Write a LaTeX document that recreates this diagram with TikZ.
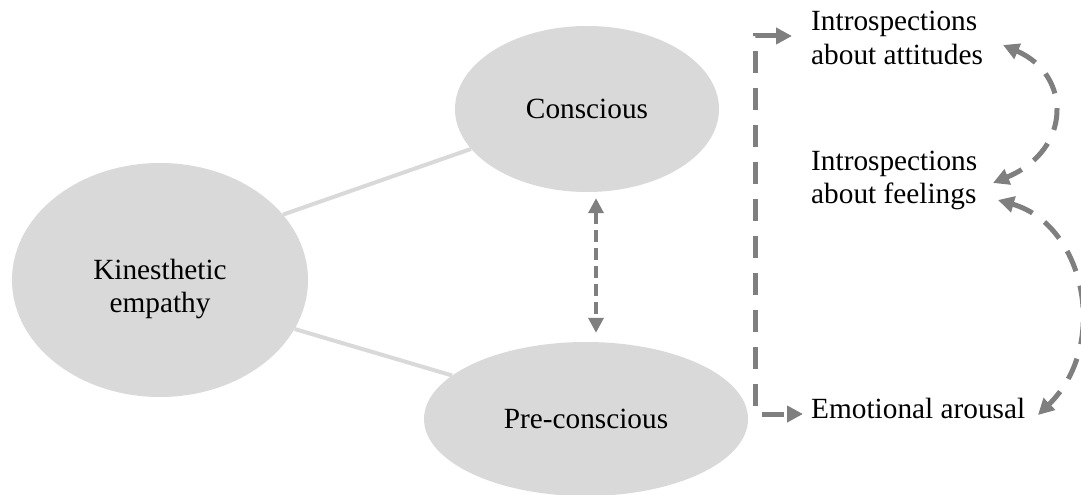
\documentclass[tikz,border=0pt]{standalone}
\usepackage{fontspec}
\setmainfont{Liberation Serif}
\usetikzlibrary{shapes.geometric,arrows.meta,calc}
\definecolor{ellfill}{HTML}{D9D9D9}
\definecolor{arrgray}{HTML}{7F7F7F}
\begin{document}
\begin{tikzpicture}[x=1pt,y=-1pt,
  every node/.style={font=\fontsize{29.3}{33}\selectfont},
  bubble/.style={ellipse, fill=ellfill, draw=none, inner sep=0pt},
  link/.style={draw=ellfill, line width=4pt},
  dashedarrow/.style={draw=arrgray, line width=3.5pt, dash pattern=on 12pt off 6pt,
    arrows={Triangle[length=15pt,width=15pt]-Triangle[length=15pt,width=15pt]}},
  bigarrow/.style={draw=arrgray, line width=5pt, dash pattern=on 22pt off 15pt,
    arrows={Triangle[length=16pt,width=16pt]-Triangle[length=16pt,width=16pt]}},
  sidetext/.style={anchor=base west, inner sep=0pt}]
\useasboundingbox (0,0) rectangle (1081,495);
\node[bubble, minimum width=296pt, minimum height=234pt,
  label={[yshift=-9pt]center:{\begin{tabular}{@{}c@{}}Kinesthetic\\empathy\end{tabular}}}] (k) at (160,280) {};
\node[bubble, minimum width=264pt, minimum height=166pt] (c) at (587,109) {Conscious};
\node[bubble, minimum width=324pt, minimum height=154pt] (p) at (586,419) {Pre-conscious};
\draw[link] (k.28) -- (c.199);
\draw[link] (k.-20) -- (p.162);
\draw[dashedarrow] ($(c.south)+(9,6)$) -- ($(p.north)+(10,-9)$);
\node[sidetext] (att) at (811,64) {\begin{tabular}[b]{@{}l@{}}Introspections\\about attitudes\end{tabular}};
\node[sidetext] (feel) at (811,203) {\begin{tabular}[b]{@{}l@{}}Introspections\\about feelings\end{tabular}};
\node[sidetext] (emo) at (811,418) {Emotional arousal};
\draw[bigarrow] ($(att.base west)+(-19,-28)$) -- ++(-37,0) |- ($(emo.base west)+(-8,-4)$);
\draw[bigarrow] ($(att.base west)+(192,-19)$) .. controls +(69,30) and +(79,-33) .. ($(feel.base west)+(182,-20)$);
\draw[bigarrow] ($(feel.base west)+(187,-3)$) .. controls +(87,25) and +(72,-70) .. ($(emo.base west)+(227,-3)$);
\end{tikzpicture}
\end{document}
